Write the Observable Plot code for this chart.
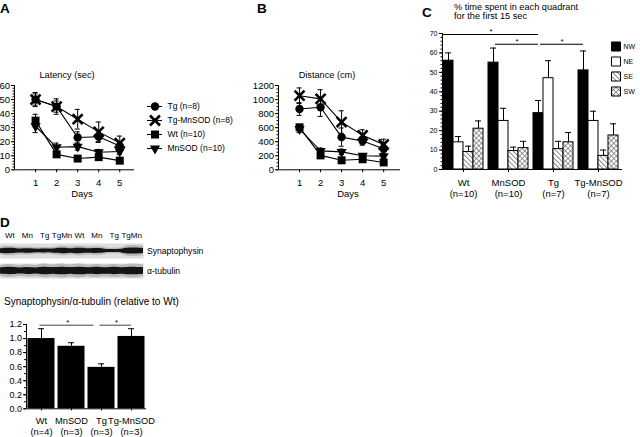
<!DOCTYPE html>
<html><head><meta charset="utf-8">
<script src="https://cdn.jsdelivr.net/npm/d3@7"></script>
<script src="https://cdn.jsdelivr.net/npm/@observablehq/plot@0.6"></script>
<style>
html,body{margin:0;padding:0;background:#fff}
#fig{position:relative;width:640px;height:437px;overflow:hidden;background:#fff;font-family:"Liberation Sans",Arial,sans-serif;color:#000}
</style></head><body>
<svg width="0" height="0" style="position:absolute">
<defs>
<pattern id="hSE" width="3.4" height="3.4" patternUnits="userSpaceOnUse" patternTransform="rotate(-45)">
<rect width="3.4" height="3.4" fill="#fff"/><line x1="0.5" y1="0" x2="0.5" y2="3.4" stroke="#555" stroke-width="0.7"/>
</pattern>
<pattern id="hSW" width="3.6" height="3.6" patternUnits="userSpaceOnUse" patternTransform="rotate(45)">
<rect width="3.6" height="3.6" fill="#fff"/><line x1="0.5" y1="0" x2="0.5" y2="3.6" stroke="#555" stroke-width="0.6"/><line x1="0" y1="0.5" x2="3.6" y2="0.5" stroke="#555" stroke-width="0.6"/>
</pattern>
</defs>
</svg>
<div id="fig"></div>
<script>
// ---------- data: panels A & B ----------
const days = [1, 2, 3, 4, 5];
const seriesKeys = ["Tg", "Tg-MnSOD", "Wt", "MnSOD"];
const seriesLabels = ["Tg (n=8)", "Tg-MnSOD (n=8)", "Wt (n=10)", "MnSOD (n=10)"];

const latTg = [50, 45, 23, 23.5, 17];
const latTgMn = [50, 45, 36, 27, 19];
const latWt = [35, 11, 8, 9, 6.5];
const latMn = [31, 16, 16.5, 12.5, 13];
const latTgErr = [4, 4, 4, 4, 3];
const latTgMnErr = [5, 5.5, 7, 7, 5];
const latWtErr = [4.5, 2, 1.5, 2, 1.5];
const latMnErr = [4.5, 3, 2.5, 2, 2];

const distTg = [865, 890, 465, 410, 300];
const distTgMn = [1055, 1010, 680, 490, 360];
const distWt = [605, 205, 135, 150, 105];
const distMn = [580, 270, 255, 200, 195];
const distTgErr = [90, 130, 130, 60, 60];
const distTgMnErr = [110, 130, 160, 80, 75];
const distWtErr = [40, 30, 20, 20, 15];
const distMnErr = [50, 40, 40, 30, 30];

// ---------- data: panel C ----------
const groupsC = ["Wt", "MnSOD", "Tg", "Tg-MnSOD"];
const groupsCn = ["(n=10)", "(n=10)", "(n=7)", "(n=7)"];
const quadrants = ["NW", "NE", "SE", "SW"];
const nwMean = [56, 55, 29, 51];
const neMean = [14, 25, 47, 25];
const seMean = [9, 9.5, 10.5, 7];
const swMean = [21, 11, 14, 17.5];
const nwErr = [4, 7.5, 6.5, 10];
const neErr = [3, 6.5, 9, 5];
const seErr = [3, 2, 4, 3];
const swErr = [4, 3.5, 5, 6];
const sigC = [{from: "Wt", to: "Tg", level: 69.5}, {from: "MnSOD", to: "Tg", level: 64.5}, {from: "Tg", to: "Tg-MnSOD", level: 64.5}];

// ---------- data: panel D ----------
const laneLabels = ["Wt", "Mn", "Tg", "TgMn", "Wt", "Mn", "Tg", "TgMn"];
const synBand = [1.0, 0.85, 0.75, 1.0, 1.0, 0.95, 0.6, 1.15];
const tubBand = [1.0, 0.95, 1.05, 1.05, 1.05, 1.0, 1.0, 1.05];
const groupsD = ["Wt", "MnSOD", "Tg", "Tg-MnSOD"];
const groupsDn = ["(n=4)", "(n=3)", "(n=3)", "(n=3)"];
const ratioMean = [1.0, 0.89, 0.59, 1.03];
const ratioErr = [0.14, 0.05, 0.05, 0.11];
const sigD = [{from: "Wt", to: "Tg", level: 1.19}, {from: "Tg", to: "Tg-MnSOD", level: 1.19}];

// ---------- helpers ----------
const fig = document.getElementById("fig");
const FONT = "'Liberation Sans', Arial, Helvetica, sans-serif";
const baseStyle = {fontFamily: FONT, background: "transparent", overflow: "visible", color: "black"};
function place(svg, left, top) {
  svg.style.position = "absolute";
  svg.style.left = left + "px";
  svg.style.top = top + "px";
  svg.style.maxWidth = "none";
  fig.appendChild(svg);
  return svg;
}
const triDown = {
  draw(ctx, size) {
    const y = -Math.sqrt(size / (Math.sqrt(3) * 3));
    ctx.moveTo(0, -2 * y);
    ctx.lineTo(-Math.sqrt(3) * y, y);
    ctx.lineTo(Math.sqrt(3) * y, y);
    ctx.closePath();
  }
};
const symbolSpec = {
  "Tg": {symbol: "circle", r: 4.2, fill: "black"},
  "Tg-MnSOD": {symbol: "times", r: 4.6, fill: "none", stroke: "black", strokeWidth: 2.6},
  "Wt": {symbol: "square", r: 4.5, fill: "black"},
  "MnSOD": {symbol: triDown, r: 3.8, fill: "black"}
};

function lineChart(means, errs, o) {
  const rows = [];
  seriesKeys.forEach((k, si) => days.forEach((d, i) => rows.push({s: k, day: d, v: means[si][i], e: errs[si][i]})));
  const cap = 0.12;
  const yTicks = d3.range(0, o.yMax + o.yStep / 2, o.yStep);
  const yMinor = d3.range(0, o.yMax + o.yMinor / 2, o.yMinor);
  return Plot.plot({
    width: o.width, height: 140,
    marginLeft: o.marginLeft, marginRight: o.marginRight, marginTop: 25, marginBottom: 30.7,
    style: baseStyle,
    x: {domain: o.xDomain}, y: {domain: [0, o.yMax]},
    marks: [
      Plot.ruleX(rows, {x: "day", y1: d => d.v - d.e, y2: d => d.v + d.e, strokeWidth: 1}),
      Plot.ruleY(rows, {y: d => d.v + d.e, x1: d => d.day - cap, x2: d => d.day + cap, strokeWidth: 1}),
      Plot.ruleY(rows, {y: d => d.v - d.e, x1: d => d.day - cap, x2: d => d.day + cap, strokeWidth: 1}),
      Plot.line(rows, {x: "day", y: "v", z: "s", strokeWidth: 1.1}),
      ...seriesKeys.map(k => Plot.dot(rows.filter(r => r.s === k), {x: "day", y: "v", ...symbolSpec[k]})),
      Plot.ruleX([o.xDomain[0]], {strokeWidth: 1}),
      Plot.ruleY([0], {strokeWidth: 1}),
      Plot.axisY({ticks: yTicks, tickFormat: d3.format("d"), tickSize: 3, tickPadding: 1.5, fontSize: 9.5, label: null}),
      Plot.axisY({ticks: yMinor, tickSize: 1.5, tickFormat: () => "", label: null}),
      Plot.axisX({ticks: days, tickFormat: d3.format("d"), tickSize: 3, tickPadding: 6, fontSize: 9.5, label: null})
    ]
  });
}

// ---------- Panel A ----------
place(lineChart([latTg, latTgMn, latWt, latMn], [latTgErr, latTgMnErr, latWtErr, latMnErr],
  {width: 140, marginLeft: 14, marginRight: 6, xDomain: [0, 5.7], yMax: 60, yStep: 10, yMinor: 2}), 0, 60);

// legend A
place(Plot.plot({
  width: 100, height: 60, margin: 0, style: baseStyle,
  x: {domain: [0, 1], range: [7, 22], axis: null},
  y: {type: "point", domain: seriesKeys, range: [10, 52], padding: 0, axis: null},
  marks: [
    Plot.ruleY(seriesKeys, {y: d => d, x1: 0, x2: 1, strokeWidth: 1.1}),
    ...seriesKeys.map(k => Plot.dot([k], {x: 0.5, y: d => d, ...symbolSpec[k]})),
    Plot.text(seriesKeys, {x: 1, y: d => d, dx: 5, text: (d, i) => seriesLabels[i], textAnchor: "start", fontSize: 8.5})
  ]
}), 140, 96);

// ---------- Panel B ----------
place(lineChart([distTg, distTgMn, distWt, distMn], [distTgErr, distTgMnErr, distWtErr, distMnErr],
  {width: 160, marginLeft: 28, marginRight: 10, xDomain: [0, 5.8], yMax: 1200, yStep: 200, yMinor: 50}), 250, 60);

// ---------- Panel C ----------
const groupStep = 4.5;
const quadMeans = [nwMean, neMean, seMean, swMean];
const quadErrs = [nwErr, neErr, seErr, swErr];
const quadFill = ["black", "white", "url(#hSE)", "url(#hSW)"];
const cRows = [];
groupsC.forEach((g, gi) => quadrants.forEach((q, qi) => {
  const x1 = gi * groupStep + qi;
  cRows.push({g, q, x1, x2: x1 + 1, cx: x1 + 0.5, v: quadMeans[qi][gi], e: quadErrs[qi][gi], fill: quadFill[qi]});
}));
const nwCenter = g => groupsC.indexOf(g) * groupStep + 0.5;
const cDomain = [-0.1, 3 * groupStep + 4.4];
const sigCx1 = (d, i) => i === 0 ? 0 : nwCenter(d.from) + 0.2;
place(Plot.plot({
  width: 240, height: 210, marginLeft: 42, marginRight: 18, marginTop: 33, marginBottom: 41,
  style: baseStyle,
  x: {domain: cDomain}, y: {domain: [0, 70]},
  color: {type: "identity"},
  marks: [
    Plot.ruleX(cRows, {x: "cx", y1: "v", y2: d => d.v + d.e, strokeWidth: 1}),
    Plot.ruleY(cRows, {y: d => d.v + d.e, x1: d => d.cx - 0.3, x2: d => d.cx + 0.3, strokeWidth: 1}),
    Plot.rect(cRows, {x1: "x1", x2: "x2", y1: 0, y2: "v", fill: "fill", stroke: "black", strokeWidth: 1}),
    Plot.ruleX([cDomain[0]], {strokeWidth: 1}),
    Plot.ruleY([0], {strokeWidth: 1}),
    Plot.axisY({ticks: d3.range(0, 71, 10), tickSize: 3, tickPadding: 2, fontSize: 7, label: null}),
    Plot.axisY({ticks: d3.range(0, 71, 2), tickSize: 1.5, tickFormat: () => "", label: null}),
    Plot.axisX({ticks: groupsC.map((g, i) => i * groupStep + 2), tickSize: 3, tickPadding: 6, fontSize: 9.5, lineHeight: 1.12,
      tickFormat: (d, i) => groupsC[i] + "\n" + groupsCn[i], label: null}),
    Plot.ruleY(sigC, {y: "level", x1: sigCx1, x2: d => nwCenter(d.to), strokeWidth: 1.1}),
    Plot.text(sigC, {y: "level", x: (d, i) => (sigCx1(d, i) + nwCenter(d.to)) / 2, text: () => "*", dy: -3, fontSize: 8})
  ]
}), 400, 0);

// legend C
place(Plot.plot({
  width: 35, height: 65, margin: 0, style: baseStyle,
  x: {domain: [0, 1], range: [6, 15], axis: null},
  y: {type: "point", domain: quadrants, range: [10.3, 56.3], padding: 0, axis: null},
  color: {type: "identity"},
  marks: [
    Plot.dot(quadrants, {x: 0.5, y: d => d, symbol: "square", r: 5.1, fill: (d, i) => quadFill[i], stroke: "black", strokeWidth: 1}),
    Plot.text(quadrants, {x: 1, y: d => d, dx: 3, text: d => d, textAnchor: "start", fontSize: 7})
  ]
}), 605, 35);

// ---------- Panel D: blots ----------
const laneDomain = [-0.54, 7.68];
function blot(intens, half, withLabels, h, mt) {
  const samples = [];
  intens.forEach((t, i) => {
    const l = i === 0 ? laneDomain[0] : i - 0.42;
    const r = i === intens.length - 1 ? laneDomain[1] : i + 0.42;
    samples.push({x: l, h: half * t * 0.8}, {x: i, h: half * t}, {x: r, h: half * t * 0.8});
  });
  const svg = Plot.plot({
    width: 143, height: h, marginLeft: 0, marginRight: 0, marginTop: mt, marginBottom: 0,
    style: baseStyle,
    x: {domain: laneDomain, axis: withLabels ? undefined : null}, y: {domain: [-1, 1], axis: null},
    marks: [
      Plot.frame({fill: "#dedede", stroke: "none"}),
      Plot.area(samples, {x1: "x", y1: d => -d.h * 1.8, y2: d => d.h * 1.8, curve: "basis", fill: "#9a9a9a", fillOpacity: 0.55}),
      Plot.area(samples, {x1: "x", y1: d => -d.h, y2: d => d.h, curve: "basis", fill: "#141414"}),
      withLabels ? Plot.axisX({anchor: "top", ticks: d3.range(laneLabels.length), tickFormat: i => laneLabels[i], tickSize: 0, tickPadding: 6, fontSize: 8, label: null}) : null
    ]
  });
  svg.querySelectorAll('g[aria-label="area"] path').forEach(p => p.style.filter = "blur(0.6px)");
  return svg;
}
place(blot(synBand, 0.38, true, 30, 15), 0, 228);
place(blot(tubBand, 0.52, false, 15, 0), 0, 263);

// ---------- Panel D: bar chart ----------
const dRows = groupsD.map((g, i) => ({g, i, x1: i + 0.05, x2: i + 0.95, cx: i + 0.5, v: ratioMean[i], e: ratioErr[i]}));
const dCenter = g => groupsD.indexOf(g) + 0.5;
const sigDx2 = (d, i) => dCenter(d.to) - (i === 0 ? 0.25 : 0);
place(Plot.plot({
  width: 160, height: 137, marginLeft: 26, marginRight: 14, marginTop: 24, marginBottom: 28.7,
  style: baseStyle,
  x: {domain: [0, 4]}, y: {domain: [0, 1.2]},
  marks: [
    Plot.ruleX(dRows, {x: "cx", y1: "v", y2: d => d.v + d.e, strokeWidth: 1}),
    Plot.ruleY(dRows, {y: d => d.v + d.e, x1: d => d.cx - 0.1, x2: d => d.cx + 0.1, strokeWidth: 1}),
    Plot.rect(dRows, {x1: "x1", x2: "x2", y1: 0, y2: "v", fill: "black"}),
    Plot.ruleX([0], {strokeWidth: 1}),
    Plot.ruleY([0], {strokeWidth: 1}),
    Plot.axisY({ticks: d3.range(0, 1.21, 0.2), tickFormat: d3.format(".1f"), tickSize: 3, tickPadding: 1.5, fontSize: 9, label: null}),
    Plot.axisY({ticks: d3.range(0, 1.21, 0.1), tickSize: 2, tickFormat: () => "", label: null}),
    Plot.axisX({ticks: dRows.map(d => d.cx), tickSize: 2, tickPadding: 5, fontSize: 9.3, lineHeight: 1.2,
      tickFormat: (d, i) => groupsD[i] + "\n" + groupsDn[i], label: null}),
    Plot.ruleY(sigD, {y: "level", x1: d => dCenter(d.from) - 0.05, x2: sigDx2, stroke: "#444", strokeWidth: 1}),
    Plot.text(sigD, {y: "level", x: (d, i) => (dCenter(d.from) + sigDx2(d, i)) / 2, text: () => "*", dy: -3, fontSize: 8})
  ]
}), 0, 300);

// ---------- overlay text ----------
const ns = "http://www.w3.org/2000/svg";
const ov = document.createElementNS(ns, "svg");
ov.setAttribute("width", 640); ov.setAttribute("height", 437);
ov.style.position = "absolute"; ov.style.left = "0"; ov.style.top = "0"; ov.style.pointerEvents = "none";
ov.style.fontFamily = FONT;
const texts = [
  {t: "A", x: 0, y: 12.5, s: 13.5, w: "bold"},
  {t: "B", x: 257, y: 12.5, s: 13.5, w: "bold"},
  {t: "C", x: 422, y: 17, s: 13.5, w: "bold"},
  {t: "D", x: 0, y: 227, s: 13.5, w: "bold"},
  {t: "Latency (sec)", x: 67, y: 78, s: 9.2, a: "middle"},
  {t: "Days", x: 82, y: 197, s: 9.5, a: "middle"},
  {t: "Distance (cm)", x: 327, y: 78, s: 9.2, a: "middle"},
  {t: "Days", x: 348, y: 197, s: 9.5, a: "middle"},
  {t: "% time spent in each quadrant", x: 454, y: 9.5, s: 9.2},
  {t: "for the first 15 sec", x: 454, y: 18.5, s: 9.2},
  {t: "Synaptophysin", x: 147, y: 253.5, s: 8.6},
  {t: "\u03b1-tubulin", x: 147, y: 273.5, s: 8.6},
  {t: "Synaptophysin/\u03b1-tubulin (relative to Wt)", x: 4, y: 305, s: 10}
];
texts.forEach(d => {
  const el = document.createElementNS(ns, "text");
  el.setAttribute("x", d.x); el.setAttribute("y", d.y);
  el.setAttribute("font-size", d.s);
  if (d.w) el.setAttribute("font-weight", d.w);
  if (d.a) el.setAttribute("text-anchor", d.a);
  el.textContent = d.t;
  ov.appendChild(el);
});
fig.appendChild(ov);
</script>
</body></html>
